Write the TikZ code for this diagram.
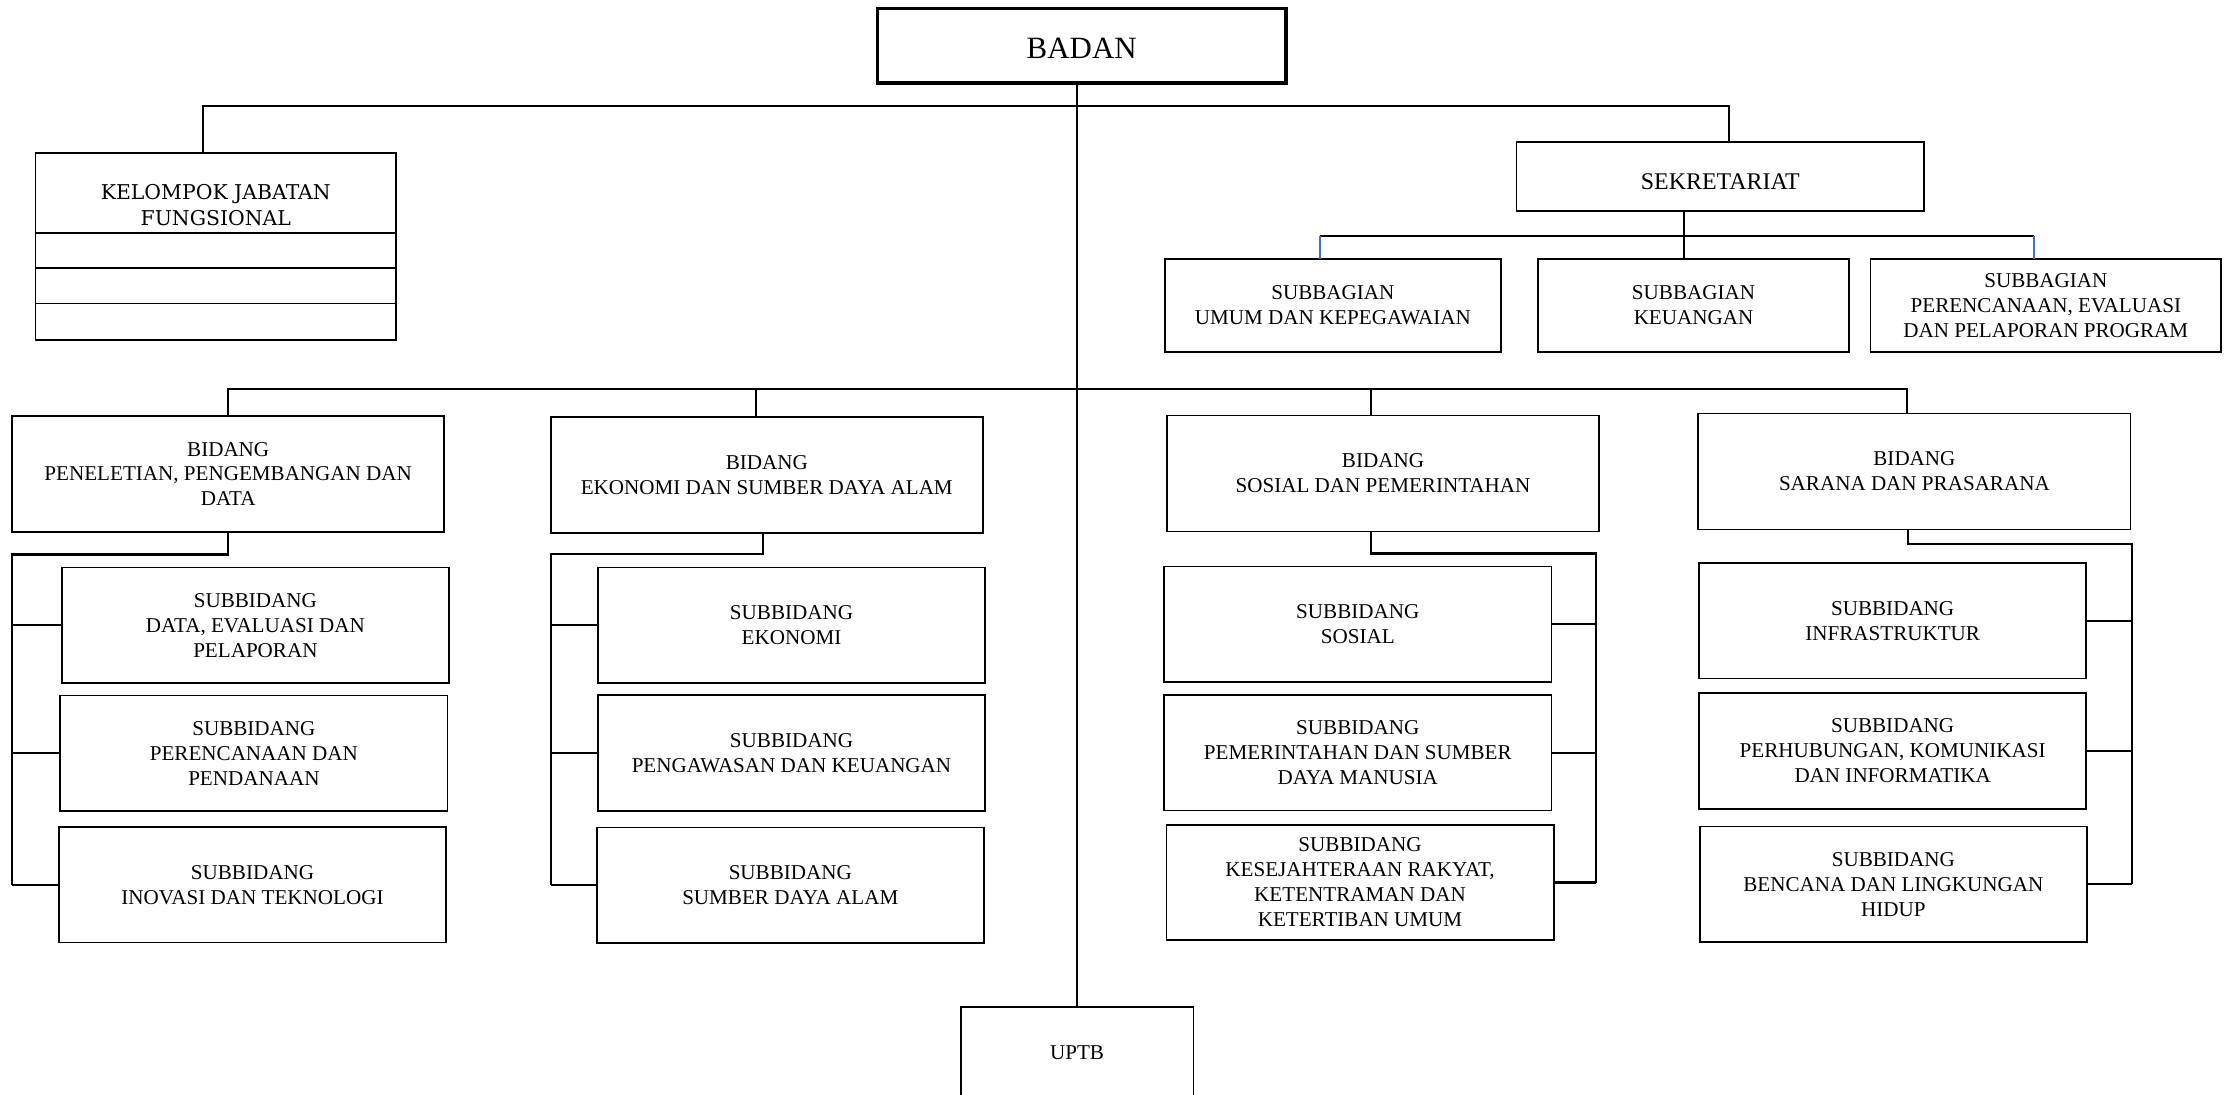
\documentclass[tikz,border=0pt]{standalone}
\usepackage{fontspec}
\setmainfont{Liberation Serif}
\newfontfamily\kjffont{DejaVu Serif}
\definecolor{linkblue}{RGB}{68,114,196}

\tikzset{
  unit/.style={draw, line width=0.5pt, inner sep=0pt, outer sep=0pt, align=center,
    font=\fontsize{6}{7.1}\selectfont},
  bidang/.style={unit, minimum width=4.32cm, minimum height=1.16cm},
  subbid/.style={unit, minimum width=3.87cm, minimum height=1.155cm},
  subbag/.style={unit, minimum height=0.927cm},
  kjfrow/.style={unit, minimum width=3.604cm, anchor=north},
  conn/.style={line width=0.6pt},
}

\begin{document}
\begin{tikzpicture}[x=0.01cm,y=-0.01cm]
\useasboundingbox (0,0) rectangle (2234,1094);
\clip (0,0) rectangle (2234,1094);

% pimpinan
\node[unit, line width=1pt, minimum width=4.085cm, minimum height=0.747cm,
  text height=7.5pt, text depth=0pt,
  font=\fontsize{8.8}{10}\selectfont] (badan) at (1081.75,45.65) {BADAN};

% kelompok jabatan fungsional
\node[unit, minimum width=3.604cm, minimum height=0.8cm] (kjf) at (215.8,193) {};
\node[font=\kjffont\fontsize{5.8}{7.4}\selectfont, align=center, inner sep=0pt]
  (kjftext) at ([yshift=-0.12cm]kjf.center) {KELOMPOK JABATAN\\FUNGSIONAL};
\node[kjfrow, minimum height=0.35cm] (kjf1) at (kjf.south) {};
\node[kjfrow, minimum height=0.355cm] (kjf2) at (kjf1.south) {};
\node[kjfrow, minimum height=0.365cm] (kjf3) at (kjf2.south) {};

% sekretariat
\node[unit, minimum width=4.074cm, minimum height=0.693cm,
  text height=7.3pt, text depth=0pt,
  font=\fontsize{6.8}{8}\selectfont] (sek) at (1720.3,176.35) {SEKRETARIAT};
\node[subbag, minimum width=3.363cm] (umum) at (1332.85,305.35) {SUBBAGIAN\\UMUM DAN KEPEGAWAIAN};
\node[subbag, minimum width=3.11cm] (keu) at (1693.5,305.35) {SUBBAGIAN\\KEUANGAN};
\node[subbag, minimum width=3.504cm] (renev) at (2045.8,305.35) {SUBBAGIAN\\PERENCANAAN, EVALUASI\\DAN PELAPORAN PROGRAM};

% bidang
\node[bidang] (b1) at (228.2,474) {BIDANG\\PENELETIAN, PENGEMBANGAN DAN\\DATA};
\node[bidang] (b2) at (766.8,475.15) {BIDANG\\EKONOMI DAN SUMBER DAYA ALAM};
\node[bidang] (b3) at (1383,473.5) {BIDANG\\SOSIAL DAN PEMERINTAHAN};
\node[bidang] (b4) at (1914.4,471.5) {BIDANG\\SARANA DAN PRASARANA};

% subbidang
\node[subbid] (s11) at (255.4,625.2) {SUBBIDANG\\DATA, EVALUASI DAN\\PELAPORAN};
\node[subbid] (s12) at (253.9,753.2) {SUBBIDANG\\PERENCANAAN DAN\\PENDANAAN};
\node[subbid] (s13) at (252.5,884.75) {SUBBIDANG\\INOVASI DAN TEKNOLOGI};
\node[subbid] (s21) at (791.5,625.3) {SUBBIDANG\\EKONOMI};
\node[subbid] (s22) at (791.5,752.9) {SUBBIDANG\\PENGAWASAN DAN KEUANGAN};
\node[subbid] (s23) at (790.3,885.2) {SUBBIDANG\\SUMBER DAYA ALAM};
\node[subbid] (s31) at (1357.75,624.3) {SUBBIDANG\\SOSIAL};
\node[subbid] (s32) at (1357.75,752.65) {SUBBIDANG\\PEMERINTAHAN DAN SUMBER\\DAYA MANUSIA};
\node[subbid] (s33) at (1360,882.5) {SUBBIDANG\\KESEJAHTERAAN RAKYAT,\\KETENTRAMAN DAN\\KETERTIBAN UMUM};
\node[subbid] (s41) at (1892.65,620.65) {SUBBIDANG\\INFRASTRUKTUR};
\node[subbid] (s42) at (1892.65,750.9) {SUBBIDANG\\PERHUBUNGAN, KOMUNIKASI\\DAN INFORMATIKA};
\node[subbid] (s43) at (1893.35,884.35) {SUBBIDANG\\BENCANA DAN LINGKUNGAN\\HIDUP};

% uptb
\node[unit, minimum width=2.326cm, minimum height=0.923cm] (uptb) at (1077,1052.85) {UPTB};

% garis komando
\draw[line width=0.3pt] (uptb.north |- badan.south) -- (uptb.north);

\coordinate (tbus) at (1075.6,106);
\coordinate (dkjf) at ([xshift=-0.13cm]kjf.north);
\coordinate (dsek) at ([xshift=0.09cm]sek.north);
\draw[conn] (dkjf) |- (tbus) -| (dsek);

\coordinate (sbus) at (1684,235.7);
\coordinate (dumum) at ([xshift=-0.13cm]umum.north);
\coordinate (drenev) at ([xshift=-0.12cm]renev.north);
\draw[conn] (sbus |- sek.south) -- (sbus |- keu.north);
\draw[conn] (dumum |- sbus) -- (drenev |- sbus);
\draw[line width=0.5pt, linkblue] (dumum |- sbus) -- (dumum);
\draw[line width=0.5pt, linkblue] (drenev |- sbus) -- (drenev);

\coordinate (bbus) at (1075.6,389);
\coordinate (db2) at ([xshift=-0.11cm]b2.north);
\coordinate (db3) at ([xshift=-0.12cm]b3.north);
\coordinate (db4) at ([xshift=-0.07cm]b4.north);
\draw[conn] (b1.north) |- (bbus) -| (db4);
\foreach \d in {db2,db3}
  \draw[conn] (\d) -- (\d |- bbus);

% subbidang kiri
\coordinate (e1) at ([yshift=-0.225cm]b1.south west);
\draw[conn] (b1.south) |- (e1) -- (e1 |- s13.west);
\foreach \s in {s11,s12,s13}
  \draw[conn] (\s.west) -- (\s.west -| e1);

\coordinate (e2) at ([yshift=-0.21cm]b2.south west);
\draw[conn] ([xshift=-0.04cm]b2.south) |- (e2) -- (e2 |- s23.west);
\foreach \s in {s21,s22,s23}
  \draw[conn] (\s.west) -- (\s.west -| e2);

% subbidang kanan
\coordinate (e3) at ([xshift=-0.03cm,yshift=-0.22cm]b3.south east);
\draw[conn] ([xshift=-0.12cm]b3.south) |- (e3) -- (e3 |- s33.east);
\foreach \s in {s31,s32,s33}
  \draw[conn] (\s.east) -- (\s.east -| e3);

\coordinate (e4) at ([xshift=0.01cm,yshift=-0.145cm]b4.south east);
\draw[conn] ([xshift=-0.06cm]b4.south) |- (e4) -- (e4 |- s43.east);
\foreach \s in {s41,s42,s43}
  \draw[conn] (\s.east) -- (\s.east -| e4);
\end{tikzpicture}
\end{document}
